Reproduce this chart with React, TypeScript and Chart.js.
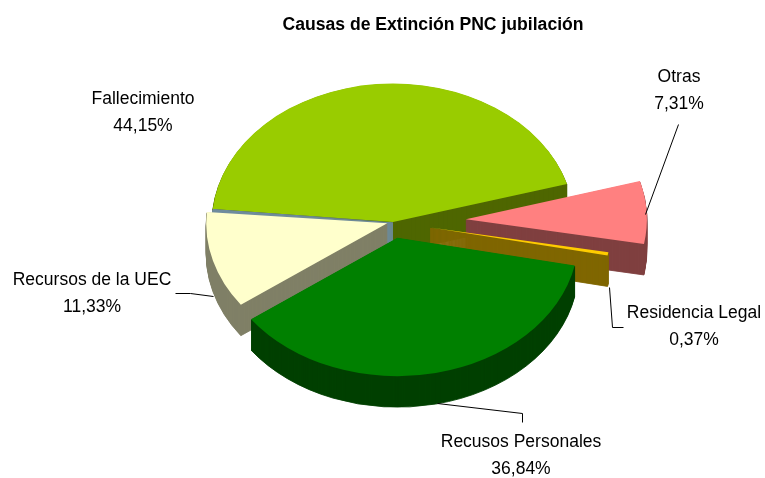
import React, { useEffect, useRef } from "react";
import { Chart, registerables } from "chart.js";

Chart.register(...registerables);

const categories = ["Fallecimiento", "Otras", "Residencia Legal", "Recusos Personales", "Recursos de la UEC", ""];
const values = [44.15, 7.31, 0.37, 36.84, 11.33, 0.2];
const valueLabels = ["44,15%", "7,31%", "0,37%", "36,84%", "11,33%", ""];
const topColors = ["#99CC00", "#FF8080", "#FFCC00", "#008000", "#FFFFCC", "#6F8C9E"];
const sideColors = ["#4F6600", "#804040", "#806600", "#004000", "#808066", "#6F8C9E"];
const explode = [0, 73, 38, 21, 6, 0];
const paintOrder = [0, 5, 1, 2, 4, 3];

const PIE_X = 393;
const PIE_Y = 222;
const PIE_R = 181;
const TILT = 0.765;
const DEPTH = 31;

const labelCentres = [
  [143, 99],
  [679, 77],
  [694, 313],
  [521, 442],
  [92, 280],
];
const LINE_GAP = 27.5;
const leaderLines = [
  [[678, 124], [645, 214]],
  [[609, 287], [612, 327], [623, 327]],
  [[437, 403], [522, 413], [522, 422]],
  [[175, 293], [190, 293], [213, 296]],
];

const pie3d = {
  id: "pie3d",
  beforeDatasetDraw(chart: any, args: any) {
    const ctx = chart.ctx;
    const arcs = args.meta.data;
    for (const i of paintOrder) {
      const el = arcs[i];
      const base = el.options;
      const mid = (el.startAngle + el.endAngle) / 2;
      for (let d = DEPTH; d >= 0; d--) {
        const over = Object.create(base);
        over.backgroundColor = d === 0 ? topColors[i] : sideColors[i];
        over.borderColor = sideColors[i];
        over.borderWidth = d === 0 ? 0 : 1;
        el.options = over;
        ctx.save();
        ctx.translate(PIE_X, PIE_Y + d);
        ctx.scale(1, TILT);
        ctx.translate(Math.cos(mid) * explode[i] - el.x, Math.sin(mid) * explode[i] - el.y);
        el.draw(ctx);
        ctx.restore();
      }
      el.options = base;
    }
    return false;
  },
  afterDraw(chart: any) {
    const ctx = chart.ctx;
    ctx.save();
    ctx.strokeStyle = "#000";
    ctx.lineWidth = 1;
    for (const line of leaderLines) {
      ctx.beginPath();
      line.forEach(([x, y], i) => (i ? ctx.lineTo(x + 0.5, y + 0.5) : ctx.moveTo(x + 0.5, y + 0.5)));
      ctx.stroke();
    }
    ctx.fillStyle = "#000";
    ctx.font = '17.5px "Liberation Sans"';
    ctx.textAlign = "center";
    ctx.textBaseline = "middle";
    labelCentres.forEach(([x, y], i) => {
      ctx.fillText(categories[i], x, y);
      ctx.fillText(valueLabels[i], x, y + LINE_GAP);
    });
    ctx.restore();
  },
};

export default function App() {
  const ref = useRef<HTMLCanvasElement>(null);
  useEffect(() => {
    const chart = new Chart(ref.current!, {
      type: "pie",
      data: {
        labels: categories,
        datasets: [
          {
            data: values,
            backgroundColor: topColors,
            borderWidth: 0,
            radius: PIE_R,
          } as any,
        ],
      },
      options: {
        responsive: false,
        animation: false,
        rotation: -84.6,
        layout: { padding: { left: 101 } },
        plugins: {
          legend: { display: false },
          tooltip: { enabled: false },
          title: {
            display: true,
            text: "Causas de Extinción PNC jubilación",
            color: "#000",
            font: { family: '"Liberation Sans"', size: 17.6, weight: "bold" },
            padding: { top: 15, bottom: 0 },
          },
        },
      } as any,
      plugins: [pie3d],
    });
    return () => chart.destroy();
  }, []);
  return (
    <canvas
      ref={ref}
      width={765}
      height={478}
      style={{ position: "fixed", left: 0, top: 0, display: "block" }}
    />
  );
}
